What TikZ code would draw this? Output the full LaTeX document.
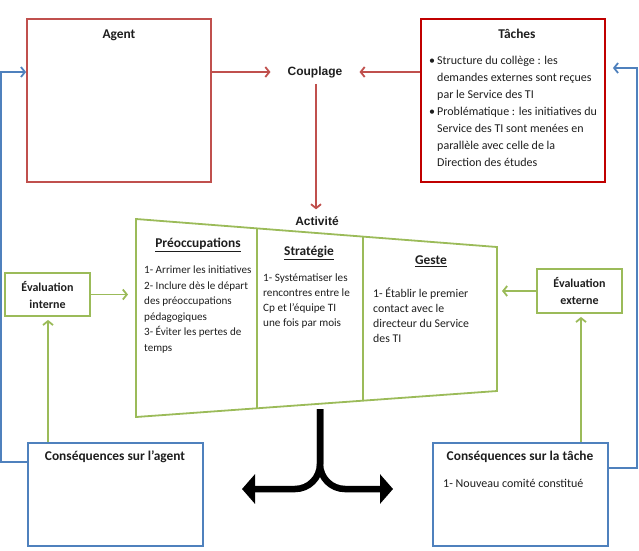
\documentclass[tikz,border=0pt]{standalone}
\usepackage{fontspec}
\setmainfont{Carlito}
\newfontfamily\arialf{Liberation Sans}
\usetikzlibrary{arrows.meta,calc}
\definecolor{cred}{RGB}{192,80,77}
\definecolor{cdred}{RGB}{192,0,0}
\definecolor{cblue}{RGB}{79,129,189}
\definecolor{cgreen}{RGB}{155,187,89}
\definecolor{ctext}{RGB}{30,30,30}
\tikzset{
  redbox/.style={draw=cred,line width=1.8pt,inner sep=0pt},
  dredbox/.style={draw=cdred,line width=1.8pt,inner sep=0pt},
  bluebox/.style={draw=cblue,line width=1.8pt,inner sep=0pt},
  greenbox/.style={draw=cgreen,line width=1.8pt,inner sep=0pt,align=center,font=\fontsize{12}{17}\selectfont\bfseries,text=ctext},
  redarr/.style={draw=cred,line width=1.8pt,-{Straight Barb[length=4pt,width=10pt]}},
  bluearr/.style={draw=cblue,line width=1.8pt,-{Straight Barb[length=4pt,width=10pt]}},
  greenarr/.style={draw=cgreen,line width=1.8pt,-{Straight Barb[length=4pt,width=10pt]}},
  bigarr/.style={draw=black,line width=6.5pt,rounded corners=25pt,-{Triangle[length=13pt,width=29pt]}},
  ttl/.style={font=\fontsize{13.4}{15}\selectfont\bfseries,text=ctext,inner sep=0pt},
  attl/.style={font=\arialf\fontsize{12}{14}\selectfont\bfseries,text=ctext,inner sep=0pt},
  body/.style={font=\fontsize{11.5}{15.5}\selectfont,text=ctext,inner sep=0pt,align=left,anchor=north west},
}
\begin{document}
\begin{tikzpicture}[x=1pt,y=-1pt]
\useasboundingbox (0,0) rectangle (639,550);

% top boxes
\node[redbox,minimum width=184,minimum height=163] (agent) at (119,100.5) {};
\node[ttl] (agentt) at (119,35) {Agent};
\node[dredbox,minimum width=184,minimum height=163] (taches) at (513,100.5) {};
\node[ttl] (tachest) at (517,34) {Tâches};
\node[body,font=\fontsize{12}{17}\selectfont] (tachesb) at (437,55.5) {%
\llap{•\,}Structure du collège : les\\
demandes externes sont reçues\\
par le Service des TI\\
\llap{•\,}Problématique : les initiatives du\\
Service des TI sont menées en\\
parallèle avec celle de la\\
Direction des études};

\node[attl,inner xsep=17pt,inner ysep=6pt] (coupl) at (315,72) {Couplage};
\node[attl,inner sep=7pt] (activ) at (317,221) {Activité};

\draw[redarr] (agent.east |- coupl) -- (coupl.west);
\draw[redarr] (taches.west |- coupl) -- (coupl.east);
\draw[redarr] (coupl.south -| 316,0) -- (activ.north -| 316,0);

% activity trapezoid
\coordinate (tl) at (136,219);
\coordinate (tr) at (497,247);
\coordinate (br) at (497,391);
\coordinate (bl) at (136,417);
\draw[cgreen,line width=1.8pt,line join=miter] (tl) -- (tr) -- (br) -- (bl) -- cycle;
\draw[cgreen,line width=1.8pt] ($(tl)!0.335!(tr)$) -- ($(bl)!0.335!(br)$);
\draw[cgreen,line width=1.8pt] ($(tl)!0.629!(tr)$) -- ($(bl)!0.629!(br)$);

\node[ttl] (preoc) at (198,245) {\underline{Préoccupations}};
\node[body,font=\fontsize{11.1}{15.6}\selectfont] (preocb) at (144,265.5) {1- Arrimer les initiatives\\
2- Inclure dès le départ\\
des préoccupations\\
pédagogiques\\
3- Éviter les pertes de\\
temps};
\node[ttl] (strat) at (309,253) {\underline{Stratégie}};
\node[body,font=\fontsize{11.2}{15}\selectfont] (stratb) at (263,274) {1- Systématiser les\\
rencontres entre le\\
Cp et l’équipe TI\\
une fois par mois};
\node[ttl] (geste) at (431,261) {\underline{Geste}};
\node[body,font=\fontsize{11.8}{15.3}\selectfont] (gesteb) at (373,287) {1- Établir le premier\\
contact avec le\\
directeur du Service\\
des TI};

% evaluation boxes
\node[greenbox,minimum width=85,minimum height=43] (evali) at (47.5,294.5) {Évaluation\\interne};
\node[greenbox,minimum width=85,minimum height=44] (evale) at (579.5,291) {Évaluation\\externe};
\draw[greenarr] (evali.east) -- ([xshift=-8pt]evali.east -| tl);
\draw[greenarr] (evale.west) -- ([xshift=5pt]evale.west -| br);

% consequence boxes
\node[bluebox,minimum width=175,minimum height=103] (cagent) at (115.5,494.5) {};
\node[ttl] (cagentt) at (115,457) {Conséquences sur l’agent};
\node[bluebox,minimum width=175,minimum height=103] (ctache) at (520.5,494.5) {};
\node[ttl] (ctachet) at (520,457) {Conséquences sur la tâche};
\node[body,font=\fontsize{12}{15}\selectfont] (ctacheb) at (443,478.5) {1- Nouveau comité constitué};

\draw[greenarr,shorten >=3pt] ([xshift=0.5pt]cagent.north -| evali) -- ([xshift=0.5pt]evali.south);
\draw[greenarr,shorten >=3pt] ([xshift=1.5pt]ctache.north -| evale) -- ([xshift=1.5pt]evale.south);

% blue feedback loops
\draw[bluearr] ([yshift=-20pt]cagent.north west) -- ++(-26,0) |- (agent.west |- coupl);
\draw[bluearr] ([yshift=-26pt]ctache.north east) -- ++(28,0) |- ([xshift=7pt,yshift=32.5pt]taches.east);

% black split arrow
\coordinate (bstem) at (320,409);
\coordinate (bleft) at (242,489);
\coordinate (bright) at (393,489);
\draw[bigarr] (bstem) |- (bleft);
\draw[bigarr] (bstem) |- (bright);
\end{tikzpicture}
\end{document}
